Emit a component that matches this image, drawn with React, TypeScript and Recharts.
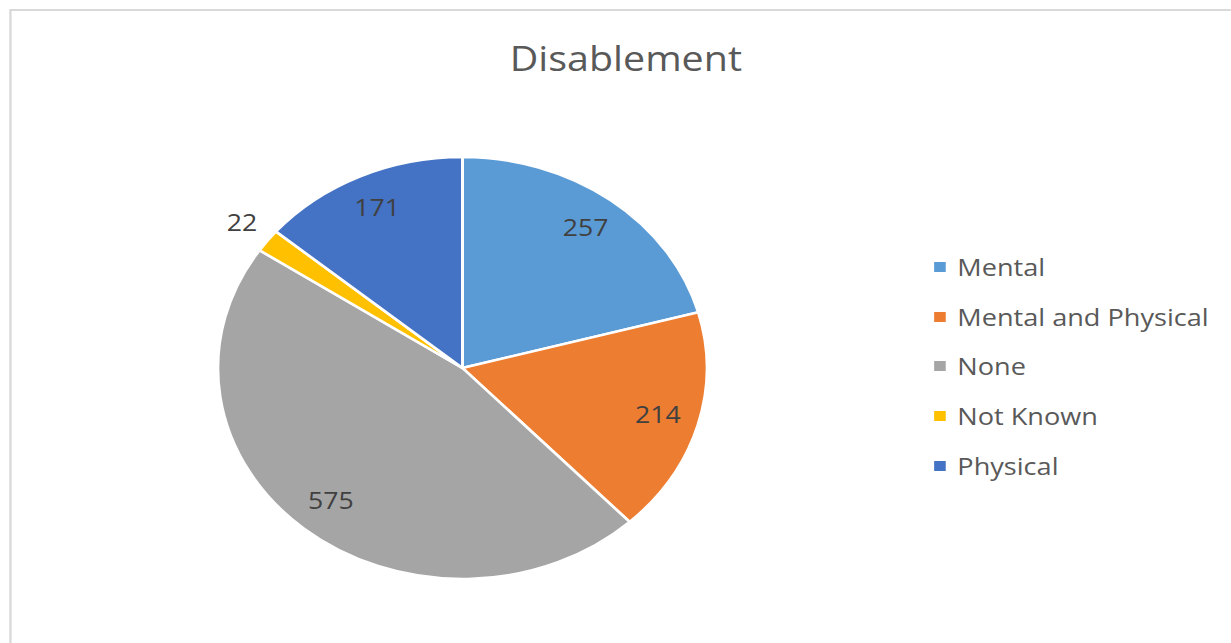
import React from 'react';
import { PieChart, Pie, Cell, Legend } from 'recharts';

const categories = ['Mental', 'Mental and Physical', 'None', 'Not Known', 'Physical'];
const counts = [257, 214, 575, 22, 171];
const colors = ['#5B9BD5', '#ED7D31', '#A5A5A5', '#FFC000', '#4472C4'];
const chartTitle = 'Disablement';

const chartData = categories.map((name, i) => ({ name, value: counts[i] }));

// the reference is stretched horizontally, so draw narrower and scale it out
const STRETCH = 1.159;
const W = 1062;
const H = 643;
const FONT = '"Open Sans", "Noto Sans", sans-serif';

const RADIAN = Math.PI / 180;

const SliceLabel = (props: any) => {
  const { cx, cy, midAngle, outerRadius, value, percent } = props;
  const r = percent < 0.05 ? outerRadius * 1.13 : outerRadius * 0.83;
  const x = cx + r * Math.cos(-midAngle * RADIAN);
  const y = cy + r * Math.sin(-midAngle * RADIAN) - 2;
  return (
    <text x={x} y={y} fill="#404040" fontSize={23} fontFamily={FONT} textAnchor="middle" dominantBaseline="central">
      {value}
    </text>
  );
};

const LegendList = () => (
  <div style={{ fontFamily: FONT }}>
    {chartData.map((d, i) => (
      <div key={d.name} style={{ display: 'flex', alignItems: 'center', height: 49.8 }}>
        <span style={{ width: 10, height: 10, background: colors[i], display: 'inline-block', marginRight: 10 }} />
        <span style={{ fontSize: 23.4, color: '#595959', whiteSpace: 'nowrap' }}>{d.name}</span>
      </div>
    ))}
  </div>
);

export default function App() {
  return (
    <div style={{ position: 'absolute', left: 0, top: 0, width: W, height: H, transform: `scaleX(${STRETCH})`, transformOrigin: '0 0', background: '#fff', overflow: 'hidden' }}>
      <div style={{ position: 'absolute', left: 8, top: 9, width: W, height: H, border: '2px solid #d9d9d9', boxSizing: 'border-box' }} />
      <div style={{ position: 'absolute', left: 0, width: W, top: 35, textAlign: 'center', paddingLeft: 18, boxSizing: 'border-box', fontFamily: FONT, fontSize: 34, color: '#595959' }}>
        {chartTitle}
      </div>
      <PieChart width={W} height={H} style={{ position: 'absolute', left: 0, top: 0 }}>
        <Pie
          data={chartData}
          dataKey="value"
          nameKey="name"
          cx={394}
          cy={363}
          outerRadius={211}
          startAngle={90}
          endAngle={-270}
          stroke="#ffffff"
          strokeWidth={2.5}
          label={SliceLabel}
          labelLine={false}
          isAnimationActive={false}
        >
          {chartData.map((d, i) => (
            <Cell key={d.name} fill={colors[i]} />
          ))}
        </Pie>
        <Legend
          layout="vertical"
          content={<LegendList />}
          wrapperStyle={{ left: 806, top: 242, width: 260 }}
        />
      </PieChart>
    </div>
  );
}
